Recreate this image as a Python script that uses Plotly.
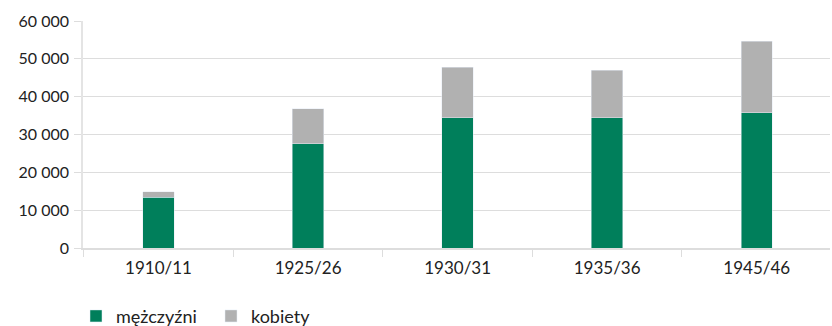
import plotly.graph_objects as go

categories = ["1910/11", "1925/26", "1930/31", "1935/36", "1945/46"]
men = [13400, 27600, 34400, 34400, 35700]
women = [1500, 9200, 13400, 12600, 19000]
y_ticks = [0, 10000, 20000, 30000, 40000, 50000, 60000]
y_tick_labels = ["0", "10 000", "20 000", "30 000", "40 000", "50 000", "60 000"]

GREEN = "#007F5B"
GREY = "#B1B1B1"
FONT = "Lato"

fig = go.Figure()
fig.add_trace(go.Bar(x=categories, y=men, name="mężczyźni", marker_color=GREEN, width=0.21))
fig.add_trace(go.Bar(x=categories, y=women, name="kobiety", marker_color=GREY, width=0.21))

fig.update_layout(
    barmode="stack",
    width=832, height=326,
    margin=dict(l=83, r=2, t=21, b=78),
    paper_bgcolor="white", plot_bgcolor="white",
    font=dict(family=FONT, size=16, color="#222222"),
    showlegend=True,
    legend=dict(orientation="h", x=76/832, xref="container", y=0.03, yref="container",
                xanchor="left", yanchor="middle",
                font=dict(family=FONT, size=18, color="#222222"),
                itemwidth=30, traceorder="normal", entrywidthmode="pixels", entrywidth=90),
)
fig.update_xaxes(
    range=[-0.505, 4.49],
    showgrid=False, showline=True, linecolor="#DDDDDD", linewidth=1.5,
    ticks="outside", tickson="boundaries", ticklen=7, tickcolor="#DDDDDD",
    tickfont=dict(family=FONT, size=17, color="#222222"), ticklabelstandoff=4,
)
fig.update_yaxes(
    range=[0, 60000], tickvals=y_ticks, ticktext=y_tick_labels,
    showgrid=True, gridcolor="#DDDDDD", gridwidth=1.2,
    showline=True, linecolor="#E4E4E4", linewidth=1.5,
    ticks="outside", ticklen=7, tickcolor="#DDDDDD",
    zeroline=False,
    tickfont=dict(family=FONT, size=16, color="#222222"), ticklabelstandoff=2,
)

fig.write_html("out.html")
